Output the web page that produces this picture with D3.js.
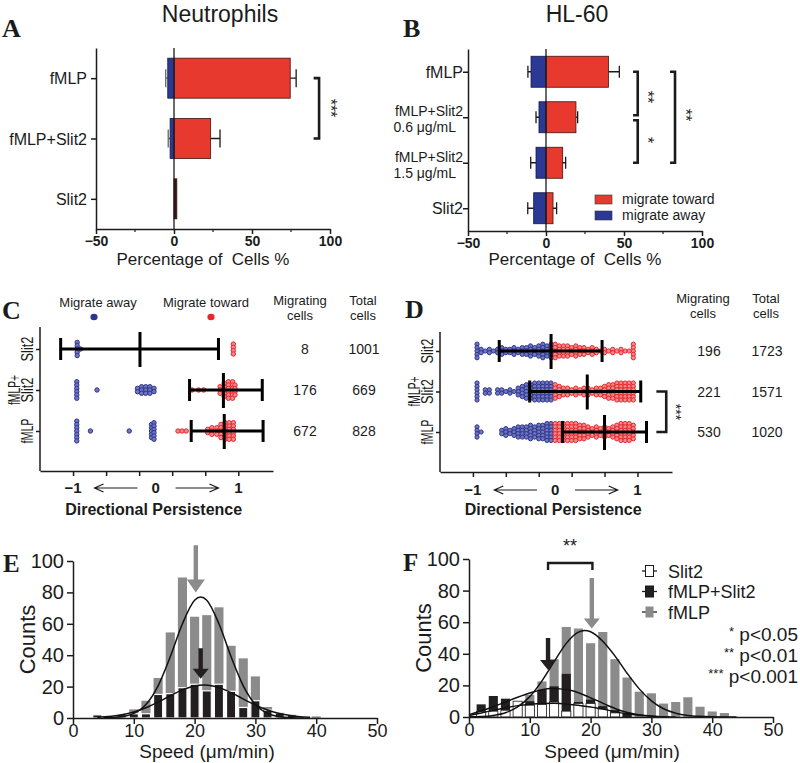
<!DOCTYPE html>
<html>
<head>
<meta charset="utf-8">
<script src="https://cdn.jsdelivr.net/npm/d3@7"></script>
<style>
  body { margin: 0; background: #fff; }
  svg text { font-family: "Liberation Sans", Arial, sans-serif; fill: #1b1b1b; }
  svg text.letter { font-family: "Liberation Serif", "Times New Roman", serif; font-weight: bold; }
</style>
</head>
<body>
<svg id="fig" width="800" height="763"></svg>
<script>
// ---- A: neutrophils, % of cells migrating toward / away ----
var aCats = ["fMLP", "fMLP+Slit2", "Slit2"];
var aToward = [74.5, 23.5, 1.8];
var aTowardSem = [3.8, 6, 0];
var aAway = [4, 2.5, 0];
var aAwaySem = [1.3, 1.2, 0];

// ---- B: HL-60 ----
var bCats = ["fMLP", "fMLP+Slit2 0.6", "fMLP+Slit2 1.5", "Slit2"];
var bLabels = [["fMLP"], ["fMLP+Slit2", "0.6 μg/mL"], ["fMLP+Slit2", "1.5 μg/mL"], ["Slit2"]];
var bToward = [40, 19.2, 10.7, 4.5];
var bTowardSem = [7, 1.1, 1.9, 2.3];
var bAway = [9.6, 4.5, 6.4, 7.9];
var bAwaySem = [2, 1.9, 3.4, 3.8];

var pctTicks = [-50, 0, 50, 100];
var pctMinor = [-25, 25, 75];

// ---- C / D: directional persistence ----
var dpRows = ["Slit2", "fMLP+Slit2", "fMLP"];
var dpTicks = [-1, -0.6, -0.2, 0.2, 0.6, 1];
var dpTickLabels = [-1, 0, 1];

var cMigrating = [8, 176, 672];
var cTotal = [1001, 669, 828];
var cMeanSd = [[-1.15, -0.19, 0.76], [0.41, 0.82, 1.29], [0.43, 0.83, 1.30]]; // low, mean, high
var cSlit2Dots = [[-0.95, 5], [-0.91, 1], [0.94, 4]];
var cComboDots = [[-0.955, 6], [-0.71, 1], [-0.22, 2], [-0.17, 3], [-0.12, 3], [-0.07, 3], [-0.02, 2],
                  [0.44, 1], [0.52, 1], [0.58, 1], [0.78, 3], [0.83, 5], [0.88, 6], [0.93, 6], [0.96, 4]];
var cFmlpDots = [[-0.955, 7], [-0.79, 1], [-0.32, 1], [-0.05, 5], [-0.02, 6], [0.27, 1], [0.32, 1], [0.37, 1],
                 [0.63, 2], [0.68, 3], [0.74, 3], [0.79, 5], [0.84, 6], [0.89, 6], [0.94, 6]];

var dMigrating = [196, 221, 530];
var dTotal = [1723, 1571, 1020];
var dMeanSd = [[-0.68, -0.05, 0.57], [-0.31, 0.39, 1.04], [0.09, 0.6, 1.11]];
var dBins = [-0.95, -0.9, -0.85, -0.8, -0.75, -0.7, -0.65, -0.6, -0.55, -0.5, -0.45, -0.4, -0.35, -0.3,
             -0.25, -0.2, -0.15, -0.1, -0.05, 0, 0.05, 0.1, 0.15, 0.2, 0.25, 0.3, 0.35, 0.4, 0.45, 0.5,
             0.55, 0.6, 0.65, 0.7, 0.75, 0.8, 0.85, 0.9, 0.95];
var dSlit2Counts = [5,2,1,2,1,2,3,2,2,3,2,3,3,4,3,4,5,4,5, 5, 4,4,4,3,4,3,3,2,3,2,1,2,1,2,1,2,1,1,5];
var dComboCounts = [6,0,2,2,0,2,2,1,2,1,3,4,5,5,6,6,6,6,6, 5, 4,3,3,2,3,2,3,3,2,3,3,4,5,5,6,6,6,6,6];
var dFmlpCounts  = [4,1,0,0,0,0,2,3,2,3,4,4,4,5,4,5,5,6,6, 6, 6,6,6,6,6,5,5,4,3,4,3,4,3,4,5,6,6,6,5];

// ---- E / F: speed histograms ----
var speedTicks = [0, 10, 20, 30, 40, 50];
var countTicks = [0, 20, 40, 60, 80, 100];

var eBins = [4, 6, 8, 10, 12, 14, 16, 18, 20, 22, 24, 26, 28, 30, 32, 34, 36, 38, 40];
var eFmlp  = [0, 0, 0, 5.5, 11, 25.5, 54.5, 89.5, 64.5, 65.5, 70.5, 46, 38, 26.5, 7, 3.5, 2.3, 0, 1];
var eCombo = [2, 1, 2.2, 2.7, 2.7, 15, 15.5, 19.3, 21.5, 17.3, 21.5, 17, 6.7, 11, 5, 3.2, 2, 0.5, 0];
var eFmlpFit = [[5, 0.1], [8, 0.8], [10, 2.9], [12, 8.6], [14, 20.5], [16, 39], [18, 60], [20, 75], [21, 77],
                [22, 75], [24, 60], [26, 39], [28, 20.5], [30, 8.6], [32, 2.9], [34, 0.8], [36, 0.2], [38, 0.05]];
var eComboFit = [[4, 0.4], [8, 2], [10, 3.8], [12, 6.5], [14, 10.1], [16, 14.2], [18, 17.9], [20, 20.4],
                 [21.5, 21], [23, 20.4], [25, 17.9], [27, 14.2], [29, 10.1], [31, 6.5], [33, 3.8], [35, 2],
                 [37, 0.9], [39, 0.4]];
var eMeans = [20.2, 21];   // fMLP, fMLP+Slit2

var fBins = [2, 4, 6, 8, 10, 12, 14, 16, 18, 20, 22, 24, 26, 28, 30, 32, 34, 36, 38, 40, 42];
var fFmlp  = [0, 0, 0, 0, 14, 22.5, 36.6, 57, 56, 46.7, 53.8, 36.6, 25, 16, 15, 8.5, 9.5, 12.5, 6.5, 3.5, 2.5];
var fCombo = [8, 13.3, 11.6, 9.5, 10, 17.2, 19.4, 27.3, 9.5, 11, 6.9, 4.3, 2.6, 0, 0, 0, 0, 0, 0, 0, 0];
var fSlit2 = [3.5, 3.7, 4.3, 10, 7.5, 8, 9.5, 3.7, 8.6, 8.6, 5.2, 2.6, 0, 0, 0, 0, 0, 0, 0, 0, 0];
var fFmlpFit = [[0, 0.1], [2, 0.3], [4, 1], [6, 2.7], [8, 6.4], [10, 12.9], [12, 22.9], [14, 35], [16, 46.6],
                [18, 53.7], [19, 54.7], [20, 54], [22, 48], [24, 38.7], [26, 27.7], [28, 17.8], [30, 10.2],
                [32, 5.2], [34, 2.4], [36, 1], [38, 0.4], [40, 0.15], [44, 0]];
var fComboFit = [[0, 1.5], [2, 3.8], [4, 6.5], [6, 9.5], [8, 12.5], [10, 15.2], [12, 17.3], [13.5, 18],
                 [15, 17.8], [17, 16.6], [19, 13.8], [21, 10.5], [23, 7], [25, 3.9], [27, 2], [29, 0.9],
                 [31, 0.3], [34, 0]];
var fSlit2Fit = [[0, 1], [2, 2.6], [4, 4.2], [6, 5.8], [8, 7.2], [10, 8.1], [12, 8.6], [14, 8.7], [16, 8.3],
                 [18, 7.4], [20, 6.4], [22, 5], [24, 3.4], [26, 2], [28, 1.1], [30, 0.5], [33, 0]];
var fMeans = [20.2, 13];   // fMLP, fMLP+Slit2
var fSeries = ["Slit2", "fMLP+Slit2", "fMLP"];
var pLabels = [["*", " p<0.05"], ["**", " p<0.01"], ["***", " p<0.001"]];

var RED = "#e8392e", BLUE = "#2b3894", INK = "#1b1b1b", GREY = "#8b8b8b";
var DOT_RED = "#e8262d", DOT_BLUE = "#2e3590";

var svg = d3.select("#fig");
svg.append("rect").attr("width", 800).attr("height", 763).attr("fill", "#fff");

function letter(x, y, t, size) {
  svg.append("text").attr("class", "letter").attr("x", x).attr("y", y)
    .style("font-size", size + "px").text(t);
}

function label(x, y, t, size, anchor, weight) {
  return svg.append("text").attr("x", x).attr("y", y)
    .attr("text-anchor", anchor || "middle")
    .style("font-size", size + "px").style("font-weight", weight || "normal")
    .style("white-space", "pre").text(t);
}

function styleAxis(g, size, weight) {
  g.select(".domain").attr("stroke", INK).attr("stroke-width", 1.5);
  g.selectAll(".tick line").attr("stroke", INK).attr("stroke-width", 1.5);
  g.selectAll(".tick text").attr("fill", INK)
    .style("font-size", size + "px").style("font-weight", weight || "normal")
    .style("font-family", "'Liberation Sans', Arial, sans-serif");
}

function bracketV(g, x, xTick, y1, y2) {
  g.append("path")
    .attr("d", "M" + xTick + "," + y1 + "H" + x + "V" + y2 + "H" + xTick)
    .attr("fill", "none").attr("stroke", INK).attr("stroke-width", 2.6);
}

function starsV(x, y, t, size) {
  svg.append("text").attr("transform", "translate(" + x + "," + y + ") rotate(90)")
    .attr("text-anchor", "middle").attr("dy", "0.35em")
    .style("font-size", size + "px").attr("fill", "#444").text(t);
}

// ================= A & B =================
function barPanel(cfg) {
  var x = d3.scaleLinear().domain([-50, 100]).range([cfg.left, cfg.right]);
  var y = d3.scalePoint().domain(cfg.cats).range([cfg.top, cfg.bottom]).padding(0.5);
  var rows = cfg.cats.map(function (c, i) {
    return { cat: c, toward: cfg.toward[i], tSem: cfg.towardSem[i], away: -cfg.away[i], aSem: cfg.awaySem[i] };
  });
  var g = svg.append("g");
  var h = cfg.barH, cap = cfg.cap;

  var withT = rows.filter(function (d) { return d.tSem > 0; });
  var withA = rows.filter(function (d) { return d.aSem > 0; });
  g.selectAll(".terr").data(withT).enter().append("path")
    .attr("d", function (d) {
      var cy = y(d.cat), xe = x(d.toward + d.tSem);
      return "M" + x(d.toward) + "," + cy + "H" + xe + "M" + xe + "," + (cy - cap) + "V" + (cy + cap);
    })
    .attr("stroke", INK).attr("stroke-width", 1.3).attr("fill", "none");
  g.selectAll(".aerr").data(withA).enter().append("path")
    .attr("d", function (d) {
      var cy = y(d.cat), xe = x(d.away - d.aSem);
      return "M" + x(d.away) + "," + cy + "H" + xe + "M" + xe + "," + (cy - cap) + "V" + (cy + cap);
    })
    .attr("stroke", cfg.awayErrColor).attr("stroke-width", 1.3).attr("fill", "none");

  g.selectAll(".toward").data(rows).enter().append("rect")
    .attr("x", x(0)).attr("y", function (d) { return y(d.cat) - h / 2; })
    .attr("width", function (d) { return x(d.toward) - x(0); }).attr("height", h)
    .attr("fill", function (d) { return d.toward < 3 ? "#3a1512" : RED; })
    .attr("stroke", "#3a1512").attr("stroke-width", 0.8);
  g.selectAll(".away").data(rows.filter(function (d) { return d.away < 0; })).enter().append("rect")
    .attr("x", function (d) { return x(d.away); }).attr("y", function (d) { return y(d.cat) - h / 2; })
    .attr("width", function (d) { return x(0) - x(d.away); }).attr("height", h)
    .attr("fill", BLUE).attr("stroke", "#151a40").attr("stroke-width", 0.8);

  g.append("line").attr("x1", x(0)).attr("x2", x(0)).attr("y1", cfg.top).attr("y2", cfg.bottom)
    .attr("stroke", INK).attr("stroke-width", 1.3);

  var xa = g.append("g").attr("transform", "translate(0," + cfg.bottom + ")")
    .call(d3.axisBottom(x).tickValues(pctTicks).tickSize(5).tickSizeOuter(0).tickPadding(2));
  styleAxis(xa, 14, "bold");
  g.selectAll(".minor").data(pctMinor).enter().append("line")
    .attr("x1", function (d) { return x(d); }).attr("x2", function (d) { return x(d); })
    .attr("y1", cfg.bottom).attr("y2", cfg.bottom + 3).attr("stroke", INK).attr("stroke-width", 1.2);

  var ya = g.append("g").attr("transform", "translate(" + cfg.left + ",0)")
    .call(d3.axisLeft(y).tickSize(5).tickSizeOuter(0).tickFormat(""));
  styleAxis(ya, 14);

  cfg.labels.forEach(function (lines, i) {
    var cy = y(cfg.cats[i]);
    if (lines.length === 1) {
      label(cfg.labelRight, cy + 6, lines[0], 16, "end");
    } else {
      label(cfg.labelRight, cy - 1, lines[0], 14, "end");
      label(cfg.labelRight - 7, cy + 15, lines[1], 14, "end");
    }
  });
  label((cfg.left + cfg.right) / 2 - 10, 265, "Percentage of  Cells %", 17);
  return { x: x, y: y, g: g };
}

var pa = barPanel({
  cats: aCats, labels: aCats.map(function (c) { return [c]; }),
  toward: aToward, towardSem: aTowardSem, away: aAway, awaySem: aAwaySem,
  left: 96, right: 330, top: 48, bottom: 229, barH: 40, cap: 9, labelRight: 87, awayErrColor: "#666"
});
bracketV(pa.g, pa.x(93), pa.x(89.5), pa.y("fMLP"), pa.y("fMLP+Slit2"));
starsV(331, 108, "***", 16);

var pb = barPanel({
  cats: bCats, labels: bLabels,
  toward: bToward, towardSem: bTowardSem, away: bAway, awaySem: bAwaySem,
  left: 468, right: 702, top: 49, bottom: 231, barH: 31, cap: 6, labelRight: 463, awayErrColor: INK
});
bracketV(pb.g, pb.x(58.8), pb.x(55.8), pb.y(bCats[0]), pb.y(bCats[1]) - 2);
bracketV(pb.g, pb.x(58.8), pb.x(55.8), pb.y(bCats[1]) + 3, pb.y(bCats[2]));
bracketV(pb.g, pb.x(82.7), pb.x(79.5), pb.y(bCats[0]), pb.y(bCats[2]));
starsV(648, 97, "**", 16);
starsV(648, 140, "*", 16);
starsV(686, 115, "**", 16);

var bLegend = [["migrate toward", RED], ["migrate away", BLUE]];
bLegend.forEach(function (d, i) {
  svg.append("rect").attr("x", 595).attr("y", 195 + i * 16).attr("width", 17).attr("height", 9)
    .attr("fill", d[1]).attr("stroke", "#333").attr("stroke-width", 0.6);
  label(622, 204 + i * 16, d[0], 14, "start").attr("fill", "#333");
});

label(220, 22, "Neutrophils", 23);
label(577, 22, "HL-60", 23);
letter(2, 37, "A", 26);
letter(403, 37, "B", 26);

// ================= C & D =================
function dpPanel(cfg) {
  var x = d3.scaleLinear().domain([-1.4, 1.42]).range([cfg.left, cfg.right]);
  var y = d3.scalePoint().domain(dpRows).range([cfg.rowTop, cfg.rowBottom]);
  var g = svg.append("g");

  var dots = [];
  cfg.dots.forEach(function (pairs, r) {
    pairs.forEach(function (p) {
      for (var k = 0; k < p[1]; k++) {
        dots.push({ v: p[0], cy: y(dpRows[r]) + (k - (p[1] - 1) / 2) * cfg.step });
      }
    });
  });
  g.selectAll(".dot").data(dots).enter().append("circle")
    .attr("cx", function (d) { return x(d.v); }).attr("cy", function (d) { return d.cy; })
    .attr("r", cfg.r)
    .attr("fill", function (d) { return d.v < 0 ? "#7077bd" : "#f28a8c"; })
    .attr("stroke", function (d) { return d.v < 0 ? DOT_BLUE : DOT_RED; })
    .attr("stroke-width", 1);

  var stats = cfg.stats.map(function (s, i) { return { row: dpRows[i], lo: s[0], mean: s[1], hi: s[2] }; });
  g.selectAll(".sd").data(stats).enter().append("path")
    .attr("d", function (d) {
      var cy = y(d.row);
      return "M" + x(d.lo) + "," + cy + "H" + x(d.hi) +
        "M" + x(d.lo) + "," + (cy - 11) + "V" + (cy + 11) +
        "M" + x(d.hi) + "," + (cy - 11) + "V" + (cy + 11) +
        "M" + x(d.mean) + "," + (cy - 17) + "V" + (cy + 18);
    })
    .attr("stroke", "#000").attr("stroke-width", 3).attr("fill", "none");

  var xa = g.append("g").attr("transform", "translate(0," + cfg.axisY + ")")
    .call(d3.axisBottom(x).tickValues(dpTicks).tickSize(5).tickSizeOuter(0).tickFormat(""));
  styleAxis(xa, 14);
  var ya = g.append("g").attr("transform", "translate(" + cfg.left + ",0)")
    .call(d3.axisLeft(y).tickSize(4).tickSizeOuter(0).tickFormat(""));
  styleAxis(ya, 14);
  ya.select(".domain").remove();
  g.append("line").attr("x1", cfg.left).attr("x2", cfg.left).attr("y1", cfg.axisTop).attr("y2", cfg.axisY)
    .attr("stroke", INK).attr("stroke-width", 1.5);

  dpTickLabels.forEach(function (v) {
    label(x(v), cfg.labelY, d3.format("")(v), 15, "middle", "bold");
  });
  var ay = cfg.labelY - 5;
  var arrows = [[-0.22, -0.74], [0.24, 0.76]];
  arrows.forEach(function (a) {
    var x0 = x(a[0]), x1 = x(a[1]), s = x1 > x0 ? -1 : 1;
    g.append("path")
      .attr("d", "M" + x0 + "," + ay + "H" + x1 + "M" + (x1 + s * 9) + "," + (ay - 4) + "L" + x1 + "," + ay +
        "L" + (x1 + s * 9) + "," + (ay + 4))
      .attr("fill", "none").attr("stroke", INK).attr("stroke-width", 1.2);
  });
  label(x(0) - 2, 515, "Directional Persistence", 16, "middle", "bold");

  // rotated row labels
  var rl = [[["Slit2", 25, 0]], [["fMLP+", 30, -13], ["Slit2", 25, 0]], [["fMLP", 25, 0]]];
  rl.forEach(function (lines, i) {
    lines.forEach(function (l) {
      svg.append("text")
        .attr("transform", "translate(" + (cfg.left - 13 + l[2]) + "," + y(dpRows[i]) + ") rotate(-90)")
        .attr("text-anchor", "middle").attr("dy", "0.35em")
        .attr("textLength", l[1]).attr("lengthAdjust", "spacingAndGlyphs")
        .style("font-size", "16px").text(l[0]);
    });
  });

  // counts table
  label(cfg.migX, cfg.headY, "Migrating", 13);
  label(cfg.migX, cfg.headY + 15, "cells", 13);
  label(cfg.totX, cfg.headY, "Total", 13);
  label(cfg.totX, cfg.headY + 15, "cells", 13);
  dpRows.forEach(function (r, i) {
    label(cfg.migX + cfg.numShift, y(r) + 5, String(cfg.migrating[i]), 14);
    label(cfg.totX + 1, y(r) + 5, String(cfg.total[i]), 14);
  });
  return { x: x, y: y, g: g };
}

dpPanel({
  left: 40, right: 273, rowTop: 349, rowBottom: 431, axisTop: 327, axisY: 471, labelY: 493,
  dots: [cSlit2Dots, cComboDots, cFmlpDots], stats: cMeanSd, r: 2.2, step: 3.3,
  migrating: cMigrating, total: cTotal, migX: 300, totX: 363, numShift: 5, headY: 305
});
svg.append("ellipse").attr("cx", 94).attr("cy", 317).attr("rx", 3.6).attr("ry", 3.2).attr("fill", DOT_BLUE);
svg.append("ellipse").attr("cx", 211).attr("cy", 317).attr("rx", 3.6).attr("ry", 3.2).attr("fill", DOT_RED);
label(98, 307, "Migrate away", 13).attr("fill", "#333");
label(206, 307, "Migrate toward", 13).attr("fill", "#333");

function binsToPairs(counts) {
  return dBins.map(function (v, i) { return [v, counts[i]]; }).filter(function (p) { return p[1] > 0; });
}
var pd = dpPanel({
  left: 440, right: 672, rowTop: 351, rowBottom: 432, axisTop: 332, axisY: 472, labelY: 495,
  dots: [binsToPairs(dSlit2Counts), binsToPairs(dComboCounts), binsToPairs(dFmlpCounts)],
  stats: dMeanSd, r: 2.1, step: 3.4,
  migrating: dMigrating, total: dTotal, migX: 703, totX: 766, numShift: 6, headY: 303
});
bracketV(pd.g, pd.x(1.35), pd.x(1.23), pd.y("fMLP+Slit2"), pd.y("fMLP"));
starsV(676, 412, "***", 14);

letter(2, 319, "C", 26);
letter(405, 318, "D", 26);

// ================= E & F =================
function histAxes(left, right, top, bottom) {
  var x = d3.scaleLinear().domain([0, 50]).range([left, right]);
  var y = d3.scaleLinear().domain([0, 100]).range([bottom, top]);
  var g = svg.append("g");
  return { x: x, y: y, g: g };
}

function drawAxes(p, labelX) {
  var xa = p.g.append("g").attr("transform", "translate(0," + p.y(0) + ")")
    .call(d3.axisBottom(p.x).tickValues(speedTicks).tickSize(6).tickSizeOuter(0).tickPadding(0));
  styleAxis(xa, 18);
  var ya = p.g.append("g").attr("transform", "translate(" + p.x(0) + ",0)")
    .call(d3.axisLeft(p.y).tickValues(countTicks).tickSize(6).tickSizeOuter(0).tickPadding(3));
  styleAxis(ya, 20);
  label(labelX, 758, "Speed (μm/min)", 19);
  svg.append("text").attr("transform", "translate(" + (p.x(0) - 46) + "," + p.y(50) + ") rotate(-90)")
    .attr("text-anchor", "middle").attr("dy", "0.35em").style("font-size", "22px").text("Counts");
}

function bars(p, bins, vals, fill, stroke, sw) {
  var data = bins.map(function (b, i) { return { s: b, c: vals[i] }; }).filter(function (d) { return d.c > 0; });
  p.g.append("g").selectAll("rect").data(data).enter().append("rect")
    .attr("x", function (d) { return p.x(d.s - 0.75); })
    .attr("width", function (d) { return p.x(d.s + 0.75) - p.x(d.s - 0.75); })
    .attr("y", function (d) { return p.y(d.c); })
    .attr("height", function (d) { return p.y(0) - p.y(d.c); })
    .attr("fill", fill).attr("stroke", stroke).attr("stroke-width", sw);
}

function fitLine(p, pts) {
  var line = d3.line().x(function (d) { return p.x(d[0]); }).y(function (d) { return p.y(d[1]); })
    .curve(d3.curveMonotoneX);
  p.g.append("path").datum(pts).attr("d", line).attr("fill", "none").attr("stroke", "#111").attr("stroke-width", 1.5);
}

function arrowDown(p, s, cTop, cTip, headLen, halfW, color) {
  var xs = p.x(s), yt = p.y(cTop), yp = p.y(cTip), yh = yp - headLen;
  p.g.append("path")
    .attr("d", "M" + (xs - 2.2) + "," + yt + "H" + (xs + 2.2) + "V" + yh + "H" + (xs + halfW) +
      "L" + xs + "," + yp + "L" + (xs - halfW) + "," + yh + "H" + (xs - 2.2) + "Z")
    .attr("fill", color);
}

var pe = histAxes(73, 377, 561, 718);
bars(pe, eBins, eFmlp, GREY, "none", 0);
bars(pe, eBins, eCombo, "#231f20", "#fff", 1.2);
fitLine(pe, eFmlpFit);
fitLine(pe, eComboFit);
arrowDown(pe, eMeans[0], 110, 80, 13, 9, GREY);
arrowDown(pe, eMeans[1], 44.5, 25, 10, 8, "#231f20");
drawAxes(pe, 207);
letter(3, 572, "E", 25);

var pf = histAxes(469, 773, 559, 717);
bars(pf, fBins, fFmlp, GREY, "none", 0);
bars(pf, fBins, fCombo, "#231f20", "none", 0);
bars(pf, fBins, fSlit2, "#fff", "#222", 0.8);
fitLine(pf, fFmlpFit);
fitLine(pf, fComboFit);
fitLine(pf, fSlit2Fit);
arrowDown(pf, fMeans[0], 88, 56, 10, 8, GREY);
arrowDown(pf, fMeans[1], 50, 29.7, 10, 8, "#231f20");
// ** between the two means
pf.g.append("path")
  .attr("d", "M" + pf.x(13) + "," + pf.y(93) + "V" + pf.y(97.5) + "H" + pf.x(20.3) + "V" + pf.y(93))
  .attr("fill", "none").attr("stroke", INK).attr("stroke-width", 2.4);
label(pf.x(16.6), 552, "**", 18);
drawAxes(pf, 612);
letter(403, 571, "F", 25);

var legFill = ["#fff", "#231f20", GREY];
fSeries.forEach(function (s, i) {
  var cy = 571 + i * 20.5;
  svg.append("line").attr("x1", 642).attr("x2", 657).attr("y1", cy).attr("y2", cy)
    .attr("stroke", INK).attr("stroke-width", 1.3);
  svg.append("rect").attr("x", 645.5).attr("y", cy - 5.5).attr("width", 8).attr("height", 11)
    .attr("fill", legFill[i]).attr("stroke", i === 2 ? "none" : INK).attr("stroke-width", 1);
  label(668, cy + 6.5, s, 18, "start");
});

pLabels.forEach(function (p, i) {
  var t = svg.append("text").attr("x", 798).attr("y", 641 + i * 21).attr("text-anchor", "end")
    .style("font-size", "19px");
  t.append("tspan").attr("dy", -5).style("font-size", "13px").text(p[0]);
  t.append("tspan").attr("dy", 5).style("white-space", "pre").text(p[1]);
});
</script>
</body>
</html>
